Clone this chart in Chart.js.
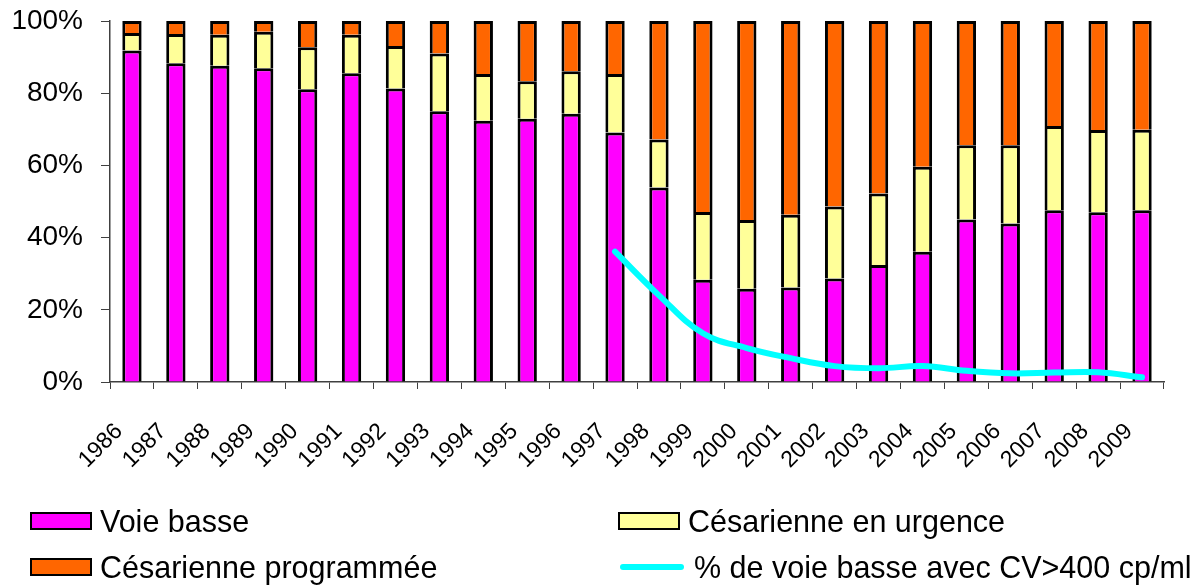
<!DOCTYPE html>
<html>
<head>
<meta charset="utf-8">
<script src="https://cdn.jsdelivr.net/npm/chart.js@4/dist/chart.umd.min.js"></script>
<style>
  html, body { margin: 0; padding: 0; background: #fff; }
  #wrap { position: relative; width: 1204px; height: 586px; }
  #legend { position: absolute; left: 0; top: 0; width: 1204px; height: 586px; pointer-events: none;
    font-family: "Liberation Sans", Arial, sans-serif; font-size: 30.5px; color: #000; }
  .item { position: absolute; display: flex; align-items: center; white-space: nowrap; }
  .box { width: 58px; height: 14px; border: 2.5px solid #000; margin-right: 8px; }
  .line { width: 64px; height: 6px; border-radius: 3px; margin-right: 10px; margin-left: 2px; }
</style>
</head>
<body>
<div id="wrap">
  <canvas id="myChart" width="1204" height="586"></canvas>
  <div id="legend"></div>
</div>
<script>
const years = ['1986', '1987', '1988', '1989', '1990', '1991', '1992', '1993', '1994', '1995', '1996', '1997',
  '1998', '1999', '2000', '2001', '2002', '2003', '2004', '2005', '2006', '2007', '2008', '2009'];

const voieBasse = [91.8, 88.3, 87.6, 86.9, 81.1, 85.5, 81.3, 75.0, 72.4, 72.9, 74.3, 69.1,
  53.9, 28.3, 25.8, 26.2, 28.7, 32.4, 36.1, 45.0, 43.9, 47.6, 47.0, 47.6];
const cesUrgence = [4.9, 8.1, 8.6, 10.1, 11.6, 10.7, 11.8, 16.0, 12.9, 10.4, 11.8, 16.2,
  13.3, 18.8, 19.1, 20.1, 19.9, 19.8, 23.5, 20.6, 21.7, 23.3, 22.8, 22.3];
const cesProgrammee = [3.3, 3.6, 3.8, 3.0, 7.3, 3.8, 6.9, 9.0, 14.7, 16.7, 13.9, 14.7,
  32.8, 52.9, 55.1, 53.7, 51.4, 47.8, 40.4, 34.4, 34.4, 29.1, 30.2, 30.1];
const voieBasseCV = [null, null, null, null, null, null, null, null, null, null, null, 36.1,
  24.0, 13.5, 9.4, 6.6, 4.4, 3.8, 4.4, 3.1, 2.4, 2.6, 2.7, 1.3];

const yTicks = [0, 20, 40, 60, 80, 100];

const font = "'Liberation Sans', Arial, sans-serif";
const axisColor = '#404040';

Chart.defaults.font.family = font;

function barSet(label, data, color) {
  return {
    type: 'bar',
    label: label,
    data: data,
    backgroundColor: color,
    borderColor: '#000',
    borderWidth: 3,
    barPercentage: 0.44,
    categoryPercentage: 1,
    order: 1
  };
}

const ctx = document.getElementById('myChart').getContext('2d');
const chart = new Chart(ctx, {
  type: 'bar',
  data: {
    labels: years,
    datasets: [
      barSet('Voie basse', voieBasse, '#FF00FF'),
      barSet('Césarienne en urgence', cesUrgence, '#FFFF99'),
      barSet('Césarienne programmée', cesProgrammee, '#FF6600'),
      {
        type: 'line',
        label: '% de voie basse avec CV>400 cp/ml',
        data: voieBasseCV,
        borderColor: '#00FFFF',
        backgroundColor: '#00FFFF',
        borderWidth: 6,
        borderCapStyle: 'round',
        pointRadius: 0,
        tension: 0.4,
        fill: false,
        stack: 'line',
        order: 0
      }
    ]
  },
  options: {
    responsive: false,
    animation: false,
    layout: { padding: { top: 21, right: 40, left: 0, bottom: 0 } },
    plugins: {
      legend: { display: false },
      tooltip: { enabled: false }
    },
    scales: {
      x: {
        stacked: true,
        offset: true,
        grid: { offset: true, drawOnChartArea: false, color: axisColor, tickLength: 7 },
        border: { color: axisColor, width: 1.5 },
        ticks: {
          color: '#000',
          font: { size: 23 },
          minRotation: 45,
          maxRotation: 45,
          autoSkip: false,
          padding: 29,
          labelOffset: -13
        },
        afterFit: function (scale) { scale.height = 204; }
      },
      y: {
        stacked: true,
        min: 0,
        max: 100,
        afterBuildTicks: function (scale) {
          scale.ticks = yTicks.map(v => ({ value: v }));
        },
        grid: { drawOnChartArea: false, color: axisColor, tickLength: 9 },
        border: { color: axisColor, width: 1.5 },
        ticks: {
          color: '#000',
          font: { size: 28 },
          padding: 18,
          callback: v => v + '%'
        },
        afterFit: function (scale) {
          scale.width = 110;
          // let the layout padding alone decide where the plot starts
          scale.paddingTop = 0;
          scale.paddingBottom = 0;
        }
      }
    }
  }
});

// legend in two columns, built from the datasets
const legendPos = [
  { left: 30, top: 521 },
  { left: 618, top: 521 },
  { left: 30, top: 567 },
  { left: 618, top: 567 }
];
const legendEl = document.getElementById('legend');
chart.data.datasets.forEach(function (ds, i) {
  const item = document.createElement('div');
  item.className = 'item';
  item.style.left = legendPos[i].left + 'px';
  item.style.top = (legendPos[i].top - 17) + 'px';
  item.style.height = '34px';
  const mark = document.createElement('span');
  if (ds.type === 'line') {
    mark.className = 'line';
    mark.style.background = ds.borderColor;
  } else {
    mark.className = 'box';
    mark.style.background = ds.backgroundColor;
  }
  const text = document.createElement('span');
  text.textContent = ds.label;
  item.appendChild(mark);
  item.appendChild(text);
  legendEl.appendChild(item);
});
</script>
</body>
</html>
